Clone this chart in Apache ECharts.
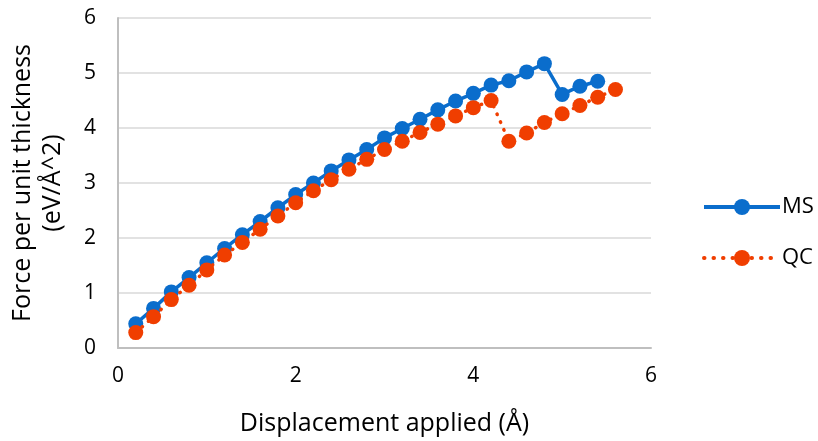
<!DOCTYPE html>
<html>
<head>
<meta charset="utf-8">
<script src="https://cdn.jsdelivr.net/npm/echarts@6/dist/echarts.min.js"></script>
<style>
  html, body { margin: 0; padding: 0; background: #fff; }
  #chart { width: 818px; height: 441px; }
</style>
</head>
<body>
<div id="chart"></div>
<script>
// displacement (Å) and force per unit thickness
var msX = [0.2, 0.4, 0.6, 0.8, 1.0, 1.2, 1.4, 1.6, 1.8, 2.0, 2.2, 2.4, 2.6, 2.8,
           3.0, 3.2, 3.4, 3.6, 3.8, 4.0, 4.2, 4.4, 4.6, 4.8, 5.0, 5.2, 5.4];
var msY = [0.44, 0.72, 1.02, 1.28, 1.55, 1.81, 2.06, 2.30, 2.55, 2.79, 3.00, 3.22, 3.42, 3.61,
           3.82, 3.99, 4.16, 4.33, 4.49, 4.63, 4.78, 4.86, 5.02, 5.17, 4.61, 4.76, 4.85];
var qcX = [0.2, 0.4, 0.6, 0.8, 1.0, 1.2, 1.4, 1.6, 1.8, 2.0, 2.2, 2.4, 2.6, 2.8,
           3.0, 3.2, 3.4, 3.6, 3.8, 4.0, 4.2, 4.4, 4.6, 4.8, 5.0, 5.2, 5.4, 5.6];
var qcY = [0.28, 0.57, 0.88, 1.14, 1.42, 1.69, 1.92, 2.16, 2.40, 2.64, 2.86, 3.06, 3.25, 3.43,
           3.61, 3.76, 3.92, 4.07, 4.22, 4.37, 4.50, 3.76, 3.91, 4.10, 4.26, 4.41, 4.56, 4.70];
var xTicks = [0, 2, 4, 6];
var yTicks = [0, 1, 2, 3, 4, 5, 6];

function pairs(xs, ys) {
  var out = [];
  for (var i = 0; i < xs.length; i++) out.push([xs[i], ys[i]]);
  return out;
}

var blue = '#0a6dcc';
var orange = '#f03e00';
var fontName = '"Open Sans", sans-serif';

var myChart = echarts.init(document.getElementById('chart'));
var option = {
  animation: false,
  textStyle: { fontFamily: fontName },
  grid: { left: 116, right: 167, top: 18, bottom: 91, containLabel: false },
  legend: {
    orient: 'vertical',
    left: 702,
    top: 196,
    padding: 0,
    itemWidth: 76,
    itemHeight: 20,
    itemGap: 29,
    textStyle: { fontSize: 22, color: '#000', fontFamily: fontName, padding: [0, 0, 0, -3] },
    data: [
      { name: 'MS', lineStyle: { width: 4 } },
      { name: 'QC', lineStyle: { width: 4, type: [0.5, 9], cap: 'round' } }
    ]
  },
  xAxis: {
    type: 'value',
    min: xTicks[0],
    max: xTicks[xTicks.length - 1],
    interval: 2,
    name: 'Displacement applied (Å)',
    nameLocation: 'middle',
    nameGap: 63,
    nameTextStyle: { fontSize: 25, color: '#000' },
    axisLine: { lineStyle: { color: '#bfbfbf', width: 2 } },
    axisTick: { show: false },
    axisLabel: { fontSize: 21, color: '#000', margin: 18 },
    splitLine: { show: false }
  },
  yAxis: {
    type: 'value',
    min: yTicks[0],
    max: yTicks[yTicks.length - 1],
    interval: 1,
    name: 'Force per unit thickness\n(eV/Å^2)',
    nameLocation: 'middle',
    nameGap: 50,
    nameTextStyle: { fontSize: 25, color: '#000', lineHeight: 30 },
    axisLine: { show: true, lineStyle: { color: '#bfbfbf', width: 2 } },
    axisTick: { show: false },
    axisLabel: { fontSize: 21, color: '#000', margin: 22 },
    splitLine: { lineStyle: { color: '#d9d9d9', width: 1.5 } }
  },
  series: [
    {
      name: 'MS',
      type: 'line',
      data: pairs(msX, msY),
      symbol: 'circle',
      symbolSize: 15,
      itemStyle: { color: blue },
      lineStyle: { color: blue, width: 3.5 },
      z: 3
    },
    {
      name: 'QC',
      type: 'line',
      data: pairs(qcX, qcY),
      symbol: 'circle',
      symbolSize: 15,
      itemStyle: { color: orange },
      lineStyle: { color: orange, width: 3.5, type: [0.5, 8], cap: 'round' },
      z: 4
    }
  ]
};

if (option && typeof option === 'object') {
  myChart.setOption(option);
}
</script>
</body>
</html>
